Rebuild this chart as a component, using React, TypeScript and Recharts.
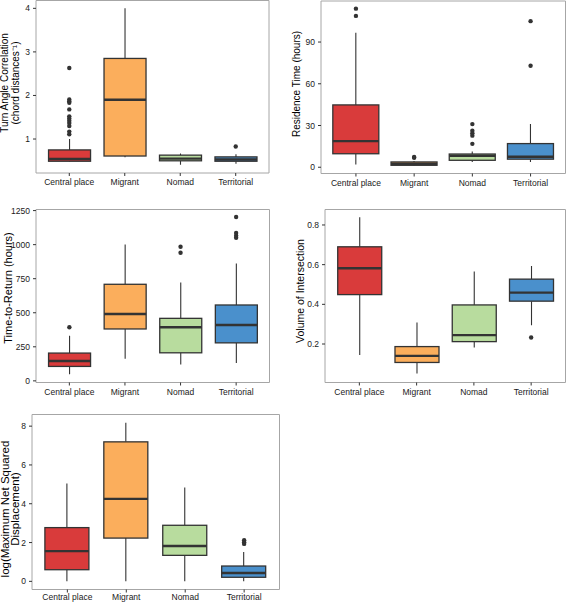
import { Bar, CartesianGrid, ComposedChart, Scatter, XAxis, YAxis } from "recharts";

const categories = ["Central place", "Migrant", "Nomad", "Territorial"];
const fills = ["#d93b3b", "#fbae5c", "#b8dc9e", "#4a90cc"];

// turn angle correlation
const turnLo = [0.48, 0.58, 0.41, 0.43];
const turnQ1 = [0.49, 0.61, 0.5, 0.49];
const turnMed = [0.54, 1.9, 0.55, 0.53];
const turnQ3 = [0.75, 2.85, 0.63, 0.59];
const turnHi = [1.0, 4.0, 0.67, 0.65];
const turnOut = [
  [2.63, 1.91, 1.87, 1.83, 1.68, 1.52, 1.47, 1.42, 1.37, 1.3, 1.17, 1.11],
  [],
  [],
  [0.83],
];

// residence time
const resLo = [2, 1, 3.8, 3.8];
const resQ1 = [9.7, 1.4, 5.0, 5.8];
const resMed = [18.8, 2.5, 8.3, 7.5];
const resQ3 = [44.8, 3.8, 9.5, 17];
const resHi = [96.7, 4.5, 11.4, 31];
const resOut = [[114, 108.8], [7.4, 6.8], [31, 26.3, 24.4, 22.7, 16.8], [105, 73]];

// time to return
const ttrLo = [48, 163, 121, 131];
const ttrQ1 = [106, 381, 206, 279];
const ttrMed = [146, 491, 394, 410];
const ttrQ3 = [204, 709, 459, 557];
const ttrHi = [332, 1001, 722, 862];
const ttrOut = [[394], [], [984, 940], [1203, 1086, 1066, 1050]];

// volume of intersection
const voiLo = [0.145, 0.051, 0.182, 0.295];
const voiQ1 = [0.449, 0.107, 0.212, 0.416];
const voiMed = [0.582, 0.14, 0.245, 0.459];
const voiQ3 = [0.69, 0.187, 0.397, 0.527];
const voiHi = [0.839, 0.308, 0.565, 0.593];
const voiOut = [[], [], [], [0.233]];

// log maximum net squared displacement
const mnsdLo = [0, 0, 0, 0];
const mnsdQ1 = [0.6, 2.23, 1.34, 0.21];
const mnsdMed = [1.56, 4.25, 1.82, 0.43];
const mnsdQ3 = [2.77, 7.19, 2.89, 0.79];
const mnsdHi = [5.04, 8.17, 4.84, 1.51];
const mnsdOut = [[], [], [], [2.12, 2.02, 1.93]];

const INK = "#333333";
const FONT = "Arial, 'Liberation Sans', Helvetica, sans-serif";

function makeRows(lo, q1, med, q3, hi) {
  return categories.map((cat, i) => ({
    cat,
    lo: lo[i],
    q1: q1[i],
    med: med[i],
    q3: q3[i],
    hi: hi[i],
    box: [q1[i], q3[i]],
    fill: fills[i],
  }));
}

function makeOutliers(out) {
  const pts = [];
  out.forEach((vals, i) => vals.forEach((v) => pts.push({ cat: categories[i], v })));
  return pts;
}

function BoxShape(props) {
  const { x, y, width, height, payload } = props;
  const top = Math.min(y, y + height);
  const h = Math.abs(height);
  const k = h / (payload.q3 - payload.q1);
  const yOf = (v) => top + (payload.q3 - v) * k;
  const cx = x + width / 2;
  const ym = yOf(payload.med);
  return (
    <g>
      <line x1={cx} x2={cx} y1={yOf(payload.hi)} y2={top} stroke={INK} strokeWidth={1.1} />
      <line x1={cx} x2={cx} y1={top + h} y2={yOf(payload.lo)} stroke={INK} strokeWidth={1.1} />
      <rect x={x} y={top} width={width} height={h} fill={payload.fill} stroke={INK} strokeWidth={1.3} />
      <line x1={x} x2={x + width} y1={ym} y2={ym} stroke={INK} strokeWidth={2.4} />
    </g>
  );
}

function BoxPanel({ rows, outliers, left, top, width, height, margin, yWidth, xHeight, xTickMargin = 3, domain, ticks, barSize, titles, titleX, titleY, titleSize }) {
  const plotW = width - margin.left - margin.right - yWidth;
  const unit = plotW / 4.2;
  const titleLabel = () => (
    <g>
      {titles.map((t, i) => (
        <text
          key={i}
          x={titleX[i]}
          y={titleY}
          transform={`rotate(-90, ${titleX[i]}, ${titleY})`}
          textAnchor="middle"
          fontSize={titleSize}
          fontFamily={FONT}
          style={{ fontFamily: FONT }}
          fill="#000"
        >
          {t}
        </text>
      ))}
    </g>
  );
  const tickStyle = { fontSize: 8.5, fill: "#1a1a1a", fontFamily: FONT };
  return (
    <div style={{ position: "absolute", left, top, fontFamily: FONT }}>
      <ComposedChart width={width} height={height} data={rows} margin={margin} style={{ fontFamily: FONT }}>
        <CartesianGrid
          stroke="#a6a6a6"
          strokeWidth={1}
          horizontalCoordinatesGenerator={({ offset }) => [offset.top, offset.top + offset.height]}
          verticalCoordinatesGenerator={({ offset }) => [offset.left, offset.left + offset.width]}
        />
        <XAxis
          dataKey="cat"
          type="category"
          allowDuplicatedCategory={false}
          height={xHeight}
          padding={{ left: unit * 0.1, right: unit * 0.1 }}
          axisLine={false}
          tickSize={3}
          tickMargin={xTickMargin}
          tickLine={{ stroke: INK }}
          tick={tickStyle}
          interval={0}
        />
        <YAxis
          type="number"
          domain={domain}
          ticks={ticks}
          allowDataOverflow
          width={yWidth}
          axisLine={false}
          tickSize={3}
          tickMargin={3}
          tickLine={{ stroke: INK }}
          tick={tickStyle}
          label={{ content: titleLabel }}
        />
        <Bar dataKey="box" barSize={barSize} shape={<BoxShape />} isAnimationActive={false} />
        <Scatter
          data={outliers}
          dataKey="v"
          isAnimationActive={false}
          shape={(p) => <circle cx={p.cx} cy={p.cy} r={2.2} fill={INK} />}
        />
      </ComposedChart>
    </div>
  );
}

export default function App() {
  return (
    <div style={{ position: "absolute", left: 0, top: 0, width: 566, height: 602, background: "#fff", overflow: "hidden", fontFamily: FONT }}>
      <BoxPanel
        rows={makeRows(turnLo, turnQ1, turnMed, turnQ3, turnHi)}
        outliers={makeOutliers(turnOut)}
        left={0}
        top={0}
        width={283}
        height={200}
        margin={{ top: 0.5, right: 14, bottom: 0, left: 0 }}
        yWidth={36}
        xHeight={27}
        domain={[0.22, 4.18]}
        ticks={[1, 2, 3, 4]}
        barSize={42}
        titles={["Turn Angle Correlation", "(chord distances\u207B\u00B9)"]}
        titleX={[8, 18.5]}
        titleY={83}
        titleSize={10}
      />
      <BoxPanel
        rows={makeRows(resLo, resQ1, resMed, resQ3, resHi)}
        outliers={makeOutliers(resOut)}
        left={283}
        top={0}
        width={283}
        height={200}
        margin={{ top: 1, right: 0.5, bottom: 0, left: 0 }}
        yWidth={38}
        xHeight={26.5}
        domain={[-4.5, 119.5]}
        ticks={[0, 30, 60, 90]}
        barSize={46}
        titles={["Residence Time (hours)"]}
        titleX={[17]}
        titleY={84}
        titleSize={10}
      />
      <BoxPanel
        rows={makeRows(ttrLo, ttrQ1, ttrMed, ttrQ3, ttrHi)}
        outliers={makeOutliers(ttrOut)}
        left={0}
        top={200}
        width={283}
        height={200}
        margin={{ top: 9.5, right: 13.5, bottom: 0, left: 0 }}
        yWidth={36}
        xHeight={17.5}
        domain={[-12, 1258]}
        ticks={[0, 250, 500, 750, 1000, 1250]}
        barSize={42}
        titles={["Time-to-Return (hours)"]}
        titleX={[11.7]}
        titleY={88}
        titleSize={11}
      />
      <BoxPanel
        rows={makeRows(voiLo, voiQ1, voiMed, voiQ3, voiHi)}
        outliers={makeOutliers(voiOut)}
        left={283}
        top={200}
        width={283}
        height={200}
        margin={{ top: 9.5, right: 0.5, bottom: 0, left: 0 }}
        yWidth={42}
        xHeight={17.5}
        domain={[0.006, 0.878]}
        ticks={[0.2, 0.4, 0.6, 0.8]}
        barSize={44}
        titles={["Volume of Intersection"]}
        titleX={[20.5]}
        titleY={91}
        titleSize={10.5}
      />
      <BoxPanel
        rows={makeRows(mnsdLo, mnsdQ1, mnsdMed, mnsdQ3, mnsdHi)}
        outliers={makeOutliers(mnsdOut)}
        left={0}
        top={400}
        width={283}
        height={202}
        margin={{ top: 14.5, right: 3.5, bottom: 0, left: 0 }}
        yWidth={32}
        xHeight={12.5}
        xTickMargin={1.5}
        domain={[-0.42, 8.6]}
        ticks={[0, 2, 4, 6, 8]}
        barSize={44}
        titles={["log(Maximum Net Squared", "Displacement)"]}
        titleX={[9, 19]}
        titleY={109}
        titleSize={11.5}
      />
    </div>
  );
}
